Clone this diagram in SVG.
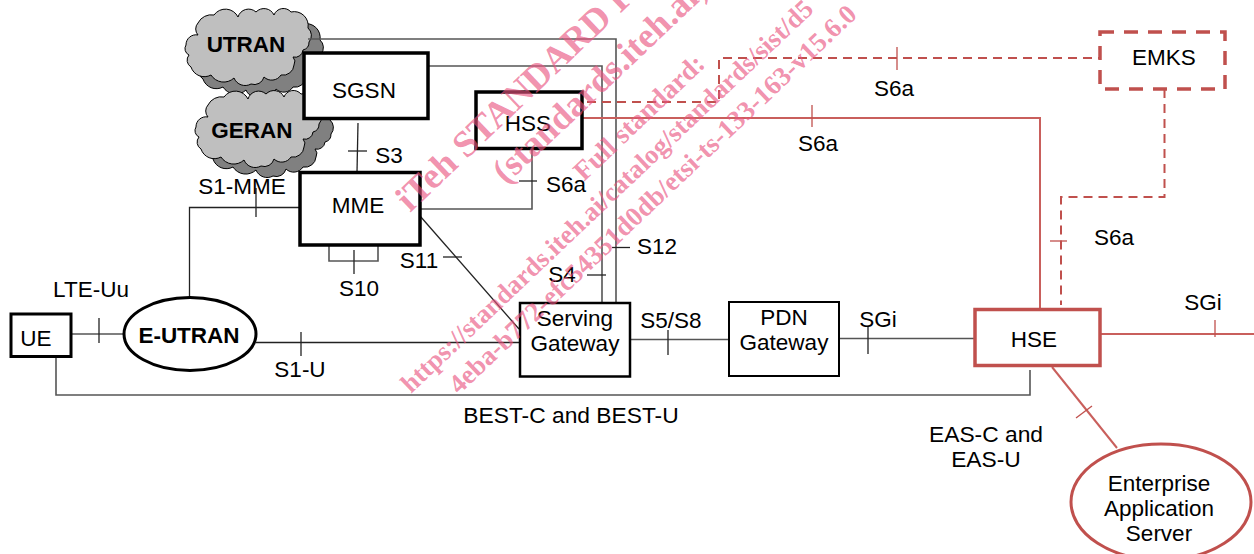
<svg xmlns="http://www.w3.org/2000/svg" width="1254" height="554" viewBox="0 0 1254 554">
<style>
text{font-family:"Liberation Sans",Arial,sans-serif;font-size:22.500px;fill:#000;text-anchor:middle}
text.b{font-weight:bold}
text.w{font-size:22.800px}
.box{fill:#fff;stroke:#000}
.red{fill:#fff;stroke:#c0504d}
.cn line,.cn path{fill:none;stroke:#222;stroke-width:1.3}
.cn .r{stroke:#c95f5c;stroke-width:2}
.cn .rt{stroke:#c0504d;stroke-width:1.3}
.cn .d{stroke:#c0504d;stroke-width:2;stroke-dasharray:9 6}
.cn .g{stroke:#555;stroke-width:1.6}
.wm text{font-family:"Liberation Serif","Times New Roman",serif;font-weight:bold;fill:#e9547f;fill-opacity:.65;text-anchor:start}
.wm .l{font-size:37px}
.wm .m{font-size:36px}
.wm .s{font-size:26.500px}
.wm .t{font-size:27px}
.wm .f{font-size:27.500px}
</style>
<defs>
<path id="cl" d="M0,35A10,10 0 0 1 12,25A9,9 0 0 1 12,13A15,15 0 0 1 28,5A14,14 0 0 1 52,7A11,11 0 0 1 70,2A11,11 0 0 1 88,5A10,10 0 0 1 105,2A14,14 0 0 1 122,18A10,10 0 0 1 123,32A8,8 0 0 1 117,40A8,8 0 0 1 107,47A7,7 0 0 1 108,55A11,11 0 0 1 95,65A11,11 0 0 1 78,67A10,10 0 0 1 65,74A12,12 0 0 1 48,68A15,15 0 0 1 25,65A14,14 0 0 1 5,57A8,8 0 0 1 3,45A7,7 0 0 1 0,35Z"/>
</defs>
<g id="cloud-utran">
<use href="#cl" x="198" y="22" fill="#808080" stroke="#000" stroke-width="1"/>
<use href="#cl" x="186" y="10" fill="#bfbfbf" stroke="#000" stroke-width="1"/>
<text class="b" x="246" y="52">UTRAN</text>
</g>
<g id="cloud-geran">
<use href="#cl" x="208" y="102" fill="#808080" stroke="#000" stroke-width="1"/>
<use href="#cl" x="196" y="92" fill="#bfbfbf" stroke="#000" stroke-width="1"/>
<text class="b" x="252" y="138">GERAN</text>
</g>
<g id="connectors" class="cn">
<path class="g" d="M308,39H616V302"/>
<path class="g" d="M426,66H602V302"/>
<path class="g" d="M532,149V209H420"/>
<line x1="519" y1="181" x2="537" y2="181"/>
<line x1="358" y1="123" x2="357" y2="172"/>
<line x1="348" y1="151" x2="367" y2="151"/>
<line x1="413" y1="208" x2="519" y2="329"/>
<line x1="443" y1="257" x2="462" y2="257"/>
<line x1="587" y1="275" x2="606" y2="275"/>
<line x1="612" y1="247.500" x2="630" y2="247.500"/>
<line x1="71" y1="334" x2="123" y2="334" class="g"/>
<line x1="99" y1="318" x2="99" y2="343"/>
<path d="M189.500,297V207.500H303"/>
<line x1="256" y1="188" x2="256" y2="217"/>
<path class="g" d="M329,240V261H378V240"/>
<line x1="354" y1="250" x2="354" y2="274"/>
<line x1="256" y1="342.500" x2="520" y2="342.500"/>
<line x1="301" y1="332" x2="301" y2="356"/>
<path class="g" d="M56,357V395H1030V370"/>
<line class="g" x1="630" y1="339.500" x2="729" y2="339.500"/>
<line x1="668" y1="330" x2="668" y2="355"/>
<line class="g" x1="839" y1="338.500" x2="974" y2="338.500"/>
<line x1="868" y1="327" x2="868" y2="354"/>
<path class="r" d="M583,118H1040V309"/>
<line class="rt" x1="812" y1="105" x2="812" y2="127"/>
<path class="d" d="M587,102H719V58H1099"/>
<line class="rt" x1="897" y1="47" x2="897" y2="70"/>
<path class="d" d="M1164.500,89V197H1061V305"/>
<line class="rt" x1="1050" y1="241" x2="1067" y2="241"/>
<line class="r" x1="1100" y1="334" x2="1254" y2="334"/>
<line class="rt" x1="1215" y1="320" x2="1215" y2="337"/>
<line class="r" x1="1052" y1="367" x2="1117" y2="448"/>
<line class="rt" x1="1076" y1="418" x2="1092" y2="406"/>
</g>
<g id="SGSN"><rect class="box" x="304" y="53" width="124" height="65.500" stroke-width="3.500"/><text x="364" y="98">SGSN</text></g>
<g id="HSS"><rect class="box" x="476" y="92" width="106" height="56.500" stroke-width="3.500"/><text x="528" y="131">HSS</text></g>
<g id="MME"><rect class="box" x="300" y="172.500" width="120" height="72.500" stroke-width="3.500"/><text x="358" y="213">MME</text></g>
<g id="UE"><rect class="box" x="11" y="314" width="60" height="42.500" stroke-width="3"/><text x="36" y="346">UE</text></g>
<g id="E-UTRAN"><ellipse class="box" cx="190" cy="334" rx="66" ry="36.500" stroke-width="3"/><text class="b" x="189" y="343">E-UTRAN</text></g>
<g id="Serving-Gateway"><rect class="box" x="520" y="303" width="110" height="73.500" stroke-width="2.500"/><text x="575" y="326">Serving</text><text x="575" y="351">Gateway</text></g>
<g id="PDN-Gateway"><rect class="box" x="729" y="302" width="110" height="74" stroke-width="2"/><text x="784" y="325">PDN</text><text x="784" y="350">Gateway</text></g>
<g id="HSE"><rect class="red" x="975" y="309.500" width="125" height="56" stroke-width="3.500"/><text x="1034" y="347">HSE</text></g>
<g id="EMKS"><rect class="red" x="1100" y="32" width="125" height="57" stroke-width="3.500" stroke-dasharray="14 10"/><text x="1164" y="65">EMKS</text></g>
<g id="Enterprise-Application-Server"><ellipse class="red" cx="1161" cy="502" rx="90" ry="58" stroke-width="3"/><text x="1159" y="491">Enterprise</text><text x="1159" y="516">Application</text><text x="1159" y="541">Server</text></g>
<g id="labels">
<text x="242" y="194">S1-MME</text>
<text x="389" y="163">S3</text>
<text x="566" y="192">S6a</text>
<text x="818" y="151">S6a</text>
<text x="894" y="96">S6a</text>
<text x="1114" y="245">S6a</text>
<text x="657" y="254">S12</text>
<text x="562" y="282">S4</text>
<text x="419" y="268">S11</text>
<text x="359" y="296">S10</text>
<text x="91" y="297">LTE-Uu</text>
<text x="300" y="377">S1-U</text>
<text x="671" y="328">S5/S8</text>
<text x="878" y="327">SGi</text>
<text x="1203" y="310">SGi</text>
<text class="w" x="571" y="423">BEST-C and BEST-U</text>
<text class="w" x="986" y="442">EAS-C and</text>
<text class="w" x="986" y="467">EAS-U</text>
</g>
<g id="watermark" class="wm">
<text class="l" transform="translate(410,213) rotate(-43.500)">iTeh STANDARD PREVIEW</text>
<text class="m" transform="translate(506,185) rotate(-43.500)">(standards.iteh.ai)</text>
<text class="f" transform="translate(584,182) rotate(-43.500)">Full standard:</text>
<text class="s" transform="translate(411,394) rotate(-43.500)">https://standards.iteh.ai/catalog/standards/sist/d5</text>
<text class="t" transform="translate(459,395) rotate(-43.500)">4eba-b772-efc54351d0db/etsi-ts-133-163-v15.6.0</text>
</g>
</svg>
